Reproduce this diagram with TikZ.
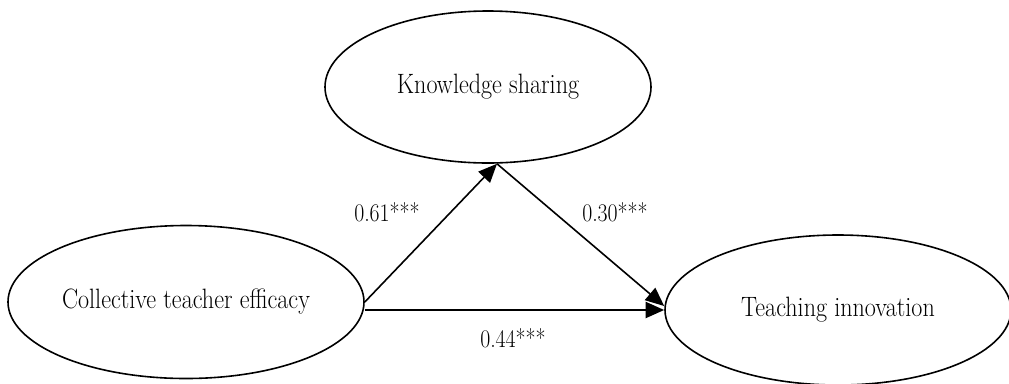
\documentclass[tikz,border=0pt]{standalone}
\usetikzlibrary{shapes.geometric,arrows.meta}
\newcommand\lbltext[1]{\scalebox{0.86}[1]{#1}}
\tikzset{
  latent/.style={ellipse, draw=black, line width=1.2pt, inner sep=0pt,
    font=\fontsize{21pt}{24pt}\selectfont},
  conn/.style={draw=black, line width=1.2pt,
    -{Triangle[length=14pt, width=12pt]}},
  coef/.style={font=\fontsize{19pt}{22pt}\selectfont, inner sep=0pt}
}
\begin{document}
\begin{tikzpicture}[x=0.75pt, y=-0.75pt]
\useasboundingbox (0,0) rectangle (1009,383);
\begin{scope}
\clip (0,0) rectangle (1009,383);
\node[latent, minimum width=244.5pt, minimum height=114pt] (ks) at (488,87) {\lbltext{Knowledge sharing}};
\node[latent, minimum width=267pt, minimum height=114.75pt] (cte) at (186,302) {\lbltext{Collective teacher efficacy}};
\node[latent, minimum width=259.5pt, minimum height=112.5pt] (ti) at (838,310) {\lbltext{Teaching innovation}};
\end{scope}
\coordinate (ksb) at ([xshift=6.75pt]ks.south);
\draw[conn] (cte.east) -- (ksb);
\draw[conn] (ksb) -- ([yshift=3pt]ti.west);
\draw[conn, line width=1.8pt] (cte.east |- ti.west) -- (ti.west);
\node[coef] (c1) at (387,212) {\lbltext{0.61***}};
\node[coef] (c2) at (615,212) {\lbltext{0.30***}};
\node[coef] (c3) at (513,338) {\lbltext{0.44***}};
\end{tikzpicture}
\end{document}
